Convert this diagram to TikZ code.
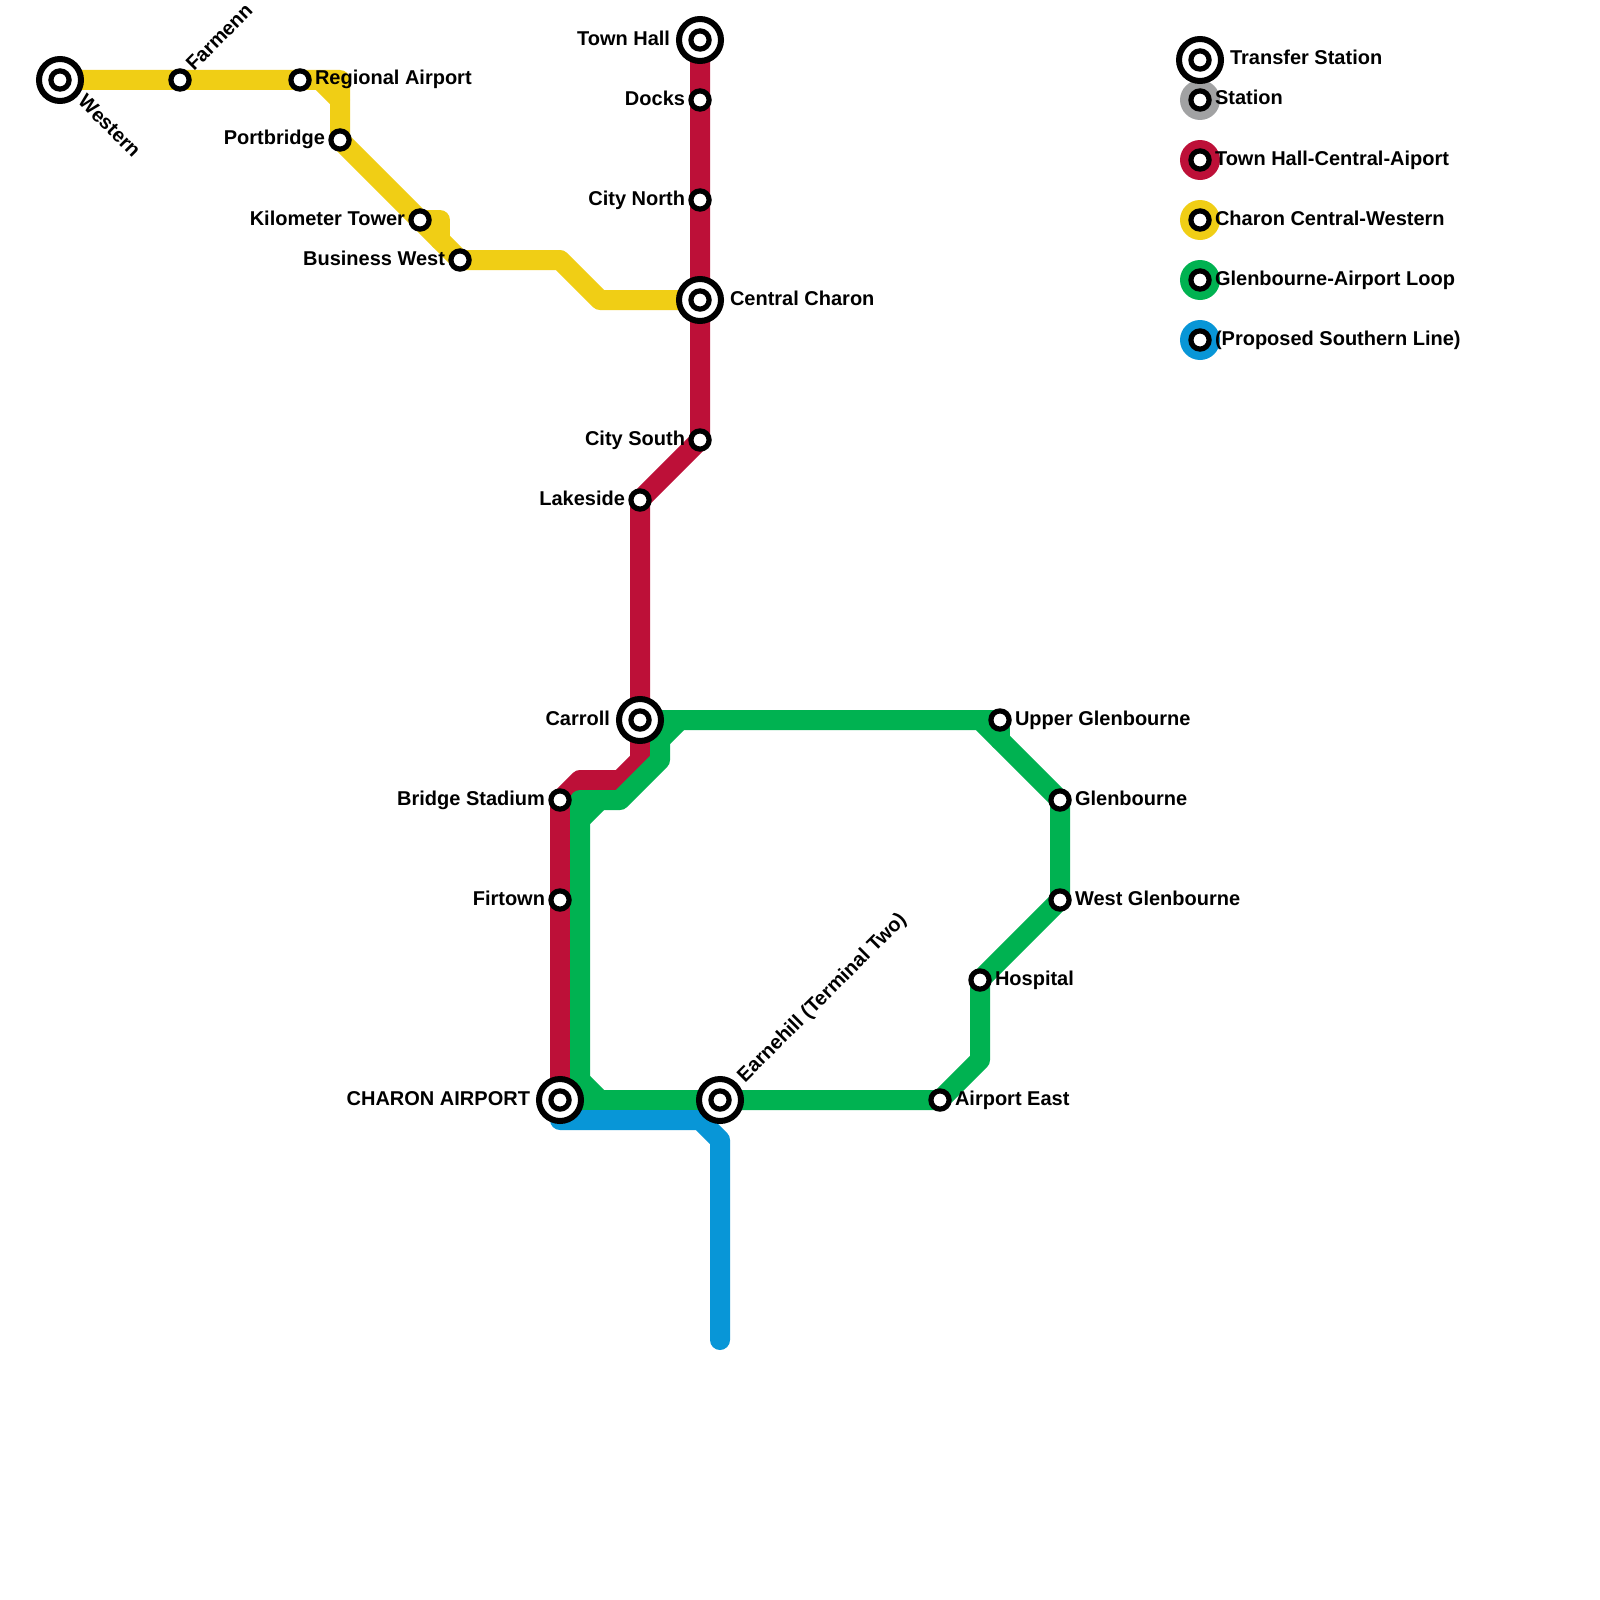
\documentclass[tikz,border=0pt]{standalone}
\usepackage{fontspec}
\setmainfont{Liberation Sans}
\pgfdeclarelayer{lines}
\pgfsetlayers{lines,main}
\definecolor{mred}{HTML}{BD1038}
\definecolor{myellow}{HTML}{F0CE15}
\definecolor{mgreen}{HTML}{00B251}
\definecolor{mblue}{HTML}{0896D7}
\definecolor{mgray}{HTML}{A1A2A3}
\tikzset{
  stn/.style={circle,draw=black,fill=white,line width=5.2pt,minimum size=18.2pt,inner sep=0pt,outer sep=0pt},
  xring/.style={circle,draw=black,fill=white,line width=6pt,minimum size=42pt,inner sep=0pt,outer sep=0pt},
  lbl/.style={inner sep=0pt,outer sep=0pt,text=black,font=\fontsize{20}{24}\selectfont\bfseries},
  lr/.style={lbl,anchor=base west},
  ll/.style={lbl,anchor=base east},
  route/.style={line width=20pt,line join=round,line cap=round},
  disc/.style={circle,minimum size=40pt,inner sep=0pt,outer sep=0pt},
}
\newcommand{\xstn}[2]{\node[xring] (#1) at (#2) {}; \node[stn] (#1core) at (#2) {};}
\begin{document}
\begin{tikzpicture}[x=1pt,y=-1pt]
\useasboundingbox (0,0) rectangle (1600,1600);
% stations
\xstn{western}{60,80}
\node[stn] (farmenn) at (180,80) {};
\node[stn] (regional) at (300,80) {};
\node[stn] (portbridge) at (340,140) {};
\node[stn] (kilometer) at (420,220) {};
\node[stn] (business) at (460,260) {};
\xstn{townhall}{700,40}
\node[stn] (docks) at (700,100) {};
\node[stn] (citynorth) at (700,200) {};
\xstn{central}{700,300}
\node[stn] (citysouth) at (700,440) {};
\node[stn] (lakeside) at (640,500) {};
\xstn{carroll}{640,720}
\node[stn] (bridge) at (560,800) {};
\node[stn] (firtown) at (560,900) {};
\xstn{airport}{560,1100}
\xstn{earnehill}{720,1100}
\node[stn] (airporteast) at (940,1100) {};
\node[stn] (hospital) at (980,980) {};
\node[stn] (westglen) at (1060,900) {};
\node[stn] (glenbourne) at (1060,800) {};
\node[stn] (upperglen) at (1000,720) {};
% bend points
\coordinate (y1) at (320,80); \coordinate (y2) at (340,80); \coordinate (y3) at (340,100);
\coordinate (y4) at (440,220); \coordinate (y5) at (440,240);
\coordinate (y6) at (560,260); \coordinate (y7) at (600,300);
\coordinate (r1) at (640,760); \coordinate (r2) at (620,780); \coordinate (r3) at (580,780);
\coordinate (g1) at (680,720); \coordinate (g2) at (660,720); \coordinate (g3) at (660,740);
\coordinate (g4) at (660,760); \coordinate (g5) at (620,800); \coordinate (g6) at (600,800);
\coordinate (g7) at (580,800); \coordinate (g8) at (580,820); \coordinate (g9) at (580,1080);
\coordinate (g10) at (580,1100); \coordinate (g11) at (600,1100);
\coordinate (g12) at (980,1060); \coordinate (g13) at (980,720); \coordinate (g14) at (1000,740);
\coordinate (b1) at (560,1120); \coordinate (b2) at (700,1120); \coordinate (b3) at (720,1140);
\coordinate (b4) at (720,1340);
\begin{pgfonlayer}{lines}
\fill[white] (0,0) rectangle (1600,1600);
\draw[route,myellow] (western.center) -- (y2) -- (portbridge.center) -- (business.center) -- (y6) -- (y7) -- (central.center);
\draw[route,myellow] (y1) -- (y3);
\draw[route,myellow] (kilometer.center) -- (y4) -- (y5);
\draw[route,mred] (townhall.center) -- (citysouth.center) -- (lakeside.center) -- (r1) -- (r2) -- (r3) -- (bridge.center) -- (airport.center);
\draw[route,mgreen] (carroll.center) -- (g2) -- (g4) -- (g5) -- (g7) -- (g10) -- (airporteast.center) -- (g12) -- (hospital.center) -- (westglen.center) -- (glenbourne.center) -- (g13) -- (carroll.center);
\draw[route,mgreen] (g1) -- (g3);
\draw[route,mgreen] (g6) -- (g8);
\draw[route,mgreen] (g9) -- (g11);
\draw[route,mgreen] (g13) -- (upperglen.center) -- (g14);
\draw[route,mblue] (airport.center) -- (b1) -- (b2) -- (b3) -- (b4);
\end{pgfonlayer}
% labels
\node[lr,rotate=-45] (lwestern) at (77,103) {Western};
\node[lr,rotate=45] (lfarmenn) at (194,72) {Farmenn};
\node[lr] (lregional) at (315,85) {Regional Airport};
\node[ll] (lportbridge) at (325,145) {Portbridge};
\node[ll] (lkilometer) at (405,225) {Kilometer Tower};
\node[ll] (lbusiness) at (445,265) {Business West};
\node[ll] (ltownhall) at (670,45.5) {Town Hall};
\node[ll] (ldocks) at (685,105.5) {Docks};
\node[ll] (lcitynorth) at (685,205) {City North};
\node[lr] (lcentral) at (730,305) {Central Charon};
\node[ll] (lcitysouth) at (685,445) {City South};
\node[ll] (llakeside) at (625,505) {Lakeside};
\node[ll] (lcarroll) at (610,725) {Carroll};
\node[ll] (lbridge) at (545,805) {Bridge Stadium};
\node[ll] (lfirtown) at (545,905) {Firtown};
\node[ll] (lairport) at (530,1105) {CHARON AIRPORT};
\node[lr,rotate=45] (learnehill) at (745,1083) {Earnehill (Terminal Two)};
\node[lr] (lairporteast) at (955,1105) {Airport East};
\node[lr] (lhospital) at (995,985) {Hospital};
\node[lr] (lwestglen) at (1075,905) {West Glenbourne};
\node[lr] (lglenbourne) at (1075,805) {Glenbourne};
\node[lr] (lupperglen) at (1015,725) {Upper Glenbourne};
% legend
\node[disc,fill=mgray] (discgray) at (1200,100) {};
\node[disc,fill=mred] (discred) at (1200,160) {};
\node[disc,fill=myellow] (discyellow) at (1200,220) {};
\node[disc,fill=mgreen] (discgreen) at (1200,280) {};
\node[disc,fill=mblue] (discblue) at (1200,340) {};
\node[stn] (leggray) at (1200,100) {};
\node[stn] (legred) at (1200,160) {};
\node[stn] (legyellow) at (1200,220) {};
\node[stn] (leggreen) at (1200,280) {};
\node[stn] (legblue) at (1200,340) {};
\xstn{legxfer}{1200,60}
\node[lr] (tlx) at (1230,65) {Transfer Station};
\node[lr] (tgray) at (1215,105) {Station};
\node[lr] (tred) at (1215,165) {Town Hall-Central-Aiport};
\node[lr] (tyellow) at (1215,225) {Charon Central-Western};
\node[lr] (tgreen) at (1215,285) {Glenbourne-Airport Loop};
\node[lr] (tblue) at (1215,345) {(Proposed Southern Line)};
\end{tikzpicture}
\end{document}
